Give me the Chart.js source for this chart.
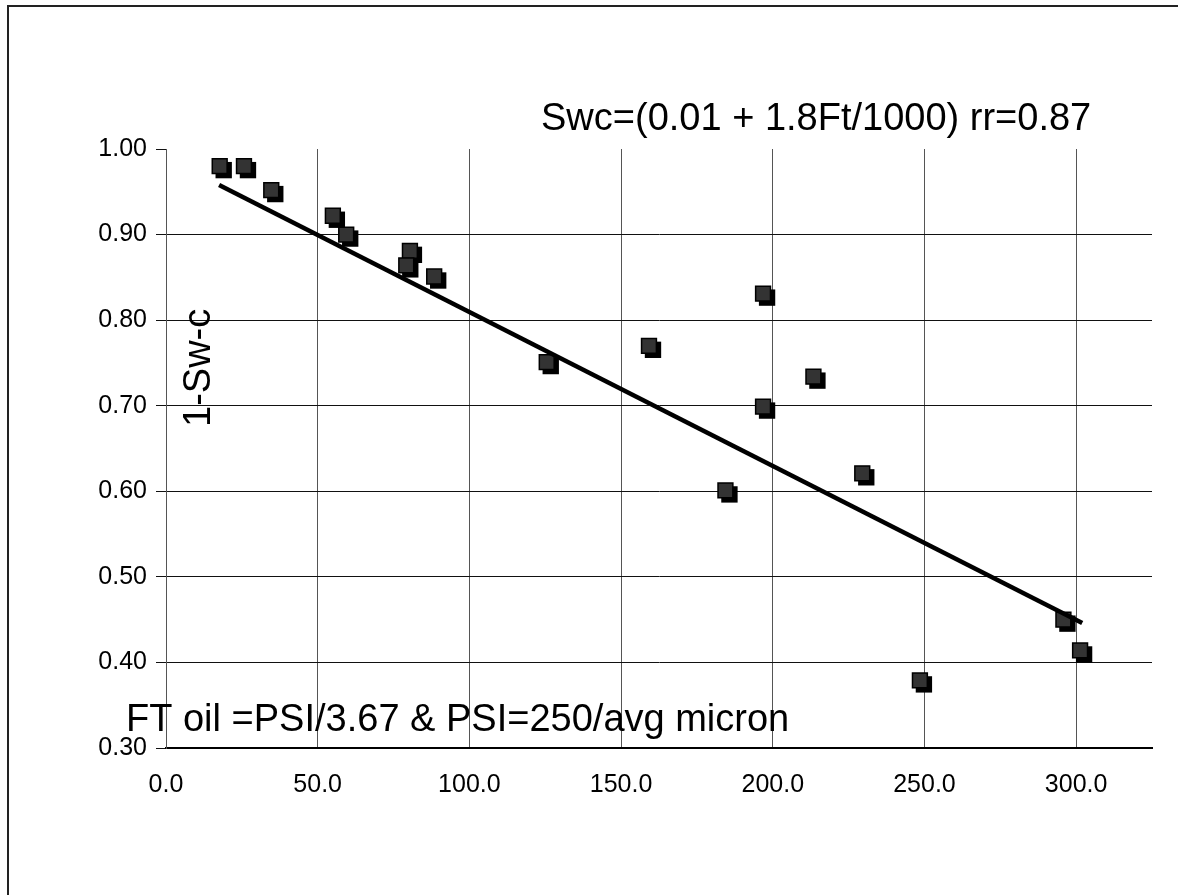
<!DOCTYPE html>
<html>
<head>
<meta charset="utf-8">
<script src="https://cdn.jsdelivr.net/npm/chart.js@4/dist/chart.umd.min.js"></script>
<style>
  body { margin: 0; background: #fff; }
  canvas { display: block; }
</style>
</head>
<body>
<canvas id="swcChart" width="1178" height="895"></canvas>
<script>
// Ft (oil column height) vs 1-Swc
const ftValues = [17.7, 25.7, 34.7, 55.0, 59.4, 80.4, 79.2, 88.4, 125.5, 159.2, 196.8, 213.4, 196.8, 229.5, 184.4, 248.5, 295.8, 301.3];
const swValues = [0.980, 0.980, 0.952, 0.922, 0.900, 0.881, 0.864, 0.851, 0.751, 0.770, 0.831, 0.734, 0.699, 0.621, 0.601, 0.379, 0.450, 0.414];

// fitted line end points
const trendX = [17.5, 302.0];
const trendY = [0.958, 0.446];

const xTicks = [0, 50, 100, 150, 200, 250, 300];
const yTicks = [0.3, 0.4, 0.5, 0.6, 0.7, 0.8, 0.9, 1.0];

const fontFamily = '"Liberation Sans", Arial, sans-serif';
const markerRadius = 10.5;

// hard black shadow behind each square marker, placed from the drawn points
const markerShadow = {
  id: 'markerShadow',
  beforeDatasetDraw(chart, args) {
    if (args.index !== 0) return;
    const ctx = chart.ctx;
    const half = Math.SQRT1_2 * markerRadius + 0.75;
    ctx.save();
    ctx.fillStyle = '#000';
    args.meta.data.forEach(pt => {
      ctx.fillRect(pt.x - half + 4, pt.y - half + 4, half * 2, half * 2);
    });
    ctx.restore();
  }
};

// frame and free text annotations
const notes = {
  id: 'notes',
  afterDraw(chart) {
    const ctx = chart.ctx;
    ctx.save();
    ctx.strokeStyle = '#222';
    ctx.lineWidth = 2;
    ctx.beginPath();
    ctx.moveTo(8, 895);
    ctx.lineTo(8, 6);
    ctx.lineTo(1178, 6);
    ctx.stroke();

    ctx.fillStyle = '#000';
    ctx.font = '38px ' + fontFamily;
    ctx.textBaseline = 'alphabetic';
    ctx.textAlign = 'left';
    ctx.fillText('Swc=(0.01 + 1.8Ft/1000) rr=0.87', 541, 130);
    ctx.fillText('FT oil =PSI/3.67 & PSI=250/avg micron', 126, 731);

    ctx.translate(210, 427);
    ctx.rotate(-Math.PI / 2);
    ctx.fillText('1-Sw-c', 0, 0);
    ctx.restore();
  }
};

const points = ftValues.map((x, i) => ({ x: x, y: swValues[i] }));
const trend = trendX.map((x, i) => ({ x: x, y: trendY[i] }));

new Chart(document.getElementById('swcChart'), {
  type: 'scatter',
  data: {
    datasets: [{
      data: points,
      order: 1,
      pointStyle: 'rect',
      pointRadius: markerRadius,
      pointBackgroundColor: '#333333',
      pointBorderColor: '#000',
      pointBorderWidth: 1.5
    }, {
      data: trend,
      order: 0,
      showLine: true,
      borderColor: '#000',
      borderWidth: 4.5,
      pointRadius: 0
    }]
  },
  options: {
    responsive: false,
    animation: false,
    layout: { padding: { left: 0, top: 149, right: 26, bottom: 87 } },
    plugins: { legend: { display: false }, tooltip: { enabled: false } },
    scales: {
      x: {
        type: 'linear',
        min: 0,
        max: 325,
        afterBuildTicks(scale) { scale.ticks = xTicks.map(v => ({ value: v })); },
        afterFit(scale) { scale.height = 60; },
        ticks: {
          padding: 22,
          color: '#000',
          font: { family: fontFamily, size: 25 },
          callback: v => v.toFixed(1)
        },
        grid: { color: '#555', lineWidth: 1, drawTicks: false },
        border: { color: '#000', width: 2 }
      },
      y: {
        min: 0.3,
        max: 1.0,
        afterBuildTicks(scale) { scale.ticks = yTicks.map(v => ({ value: v })); },
        afterFit(scale) { scale.width = 166; },
        ticks: {
          padding: 9,
          color: '#000',
          font: { family: fontFamily, size: 25 },
          callback: v => v.toFixed(2)
        },
        grid: {
          color: c => (c.tick && c.tick.value >= 0.999) ? 'rgba(0,0,0,0)' : '#111',
          tickColor: '#111',
          tickLength: 10,
          lineWidth: 1
        },
        border: { color: '#555', width: 1 }
      }
    }
  },
  plugins: [markerShadow, notes]
});
</script>
</body>
</html>
